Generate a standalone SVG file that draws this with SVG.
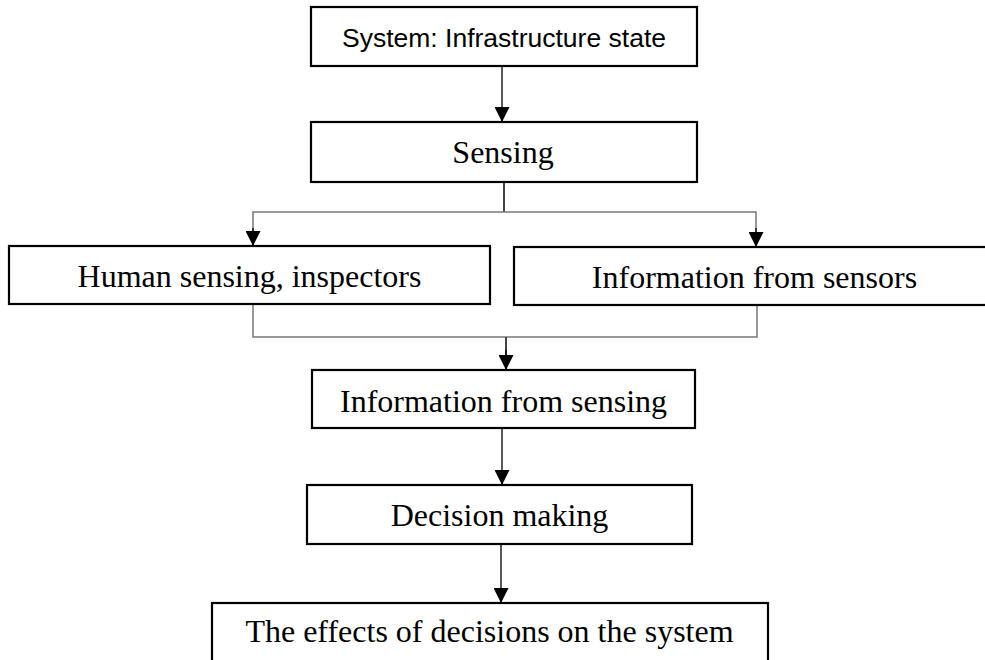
<svg xmlns="http://www.w3.org/2000/svg" width="985" height="660" viewBox="0 0 985 660">
  <style>
    .box { fill: #fff; stroke: #000; stroke-width: 2.2; }
    .serif { font-family: "Liberation Serif", "Times New Roman", serif; font-size: 32px; fill: #000; text-anchor: middle; }
    .sans { font-family: "Liberation Sans", Arial, sans-serif; font-size: 26.5px; fill: #000; text-anchor: middle; }
    .arrow { fill: none; stroke: #000; stroke-width: 1.3; }
    .branch { fill: none; stroke: #777; stroke-width: 1.5; }
    .stem { fill: none; stroke: #444; stroke-width: 2; }
  </style>
  <defs>
    <marker id="ah" markerWidth="15" markerHeight="15" refX="15" refY="7.5" orient="auto" markerUnits="userSpaceOnUse" viewBox="0 0 15 15">
      <path d="M0,0 L15,7.5 L0,15 Z" fill="#000"/>
    </marker>
  </defs>
  <rect width="985" height="660" fill="#fff"/>
  <g id="connectors">
    <line class="arrow" x1="502" y1="66" x2="502" y2="122" marker-end="url(#ah)"/>
    <line class="stem" x1="504" y1="182" x2="504" y2="212"/>
    <polyline class="branch" points="253,240 253,212 756,212 756,240"/>
    <line class="arrow" x1="253" y1="228" x2="253" y2="246" marker-end="url(#ah)"/>
    <line class="arrow" x1="756" y1="228" x2="756" y2="247" marker-end="url(#ah)"/>
    <polyline class="branch" points="253,304 253,337 757,337 757,305"/>
    <line class="stem" x1="506" y1="337" x2="506" y2="356"/>
    <line class="arrow" x1="506" y1="350" x2="506" y2="370" marker-end="url(#ah)"/>
    <line class="arrow" x1="502" y1="428" x2="502" y2="485" marker-end="url(#ah)"/>
    <line class="arrow" x1="501" y1="544" x2="501" y2="603" marker-end="url(#ah)"/>
  </g>
  <g id="node-system">
    <rect class="box" x="311" y="7" width="386" height="59"/>
    <text class="sans" x="504" y="47">System: Infrastructure state</text>
  </g>
  <g id="node-sensing">
    <rect class="box" x="311" y="122" width="386" height="60"/>
    <text class="serif" x="503" y="163">Sensing</text>
  </g>
  <g id="node-human">
    <rect class="box" x="9" y="246" width="481" height="58"/>
    <text class="serif" x="249.5" y="287">Human sensing, inspectors</text>
  </g>
  <g id="node-sensors">
    <rect class="box" x="514" y="247" width="481" height="58"/>
    <text class="serif" x="754.5" y="288">Information from sensors</text>
  </g>
  <g id="node-info">
    <rect class="box" x="312" y="370" width="383" height="58"/>
    <text class="serif" x="503.5" y="412">Information from sensing</text>
  </g>
  <g id="node-decision">
    <rect class="box" x="307" y="485" width="385" height="59"/>
    <text class="serif" x="499.5" y="526">Decision making</text>
  </g>
  <g id="node-effects">
    <rect class="box" x="212" y="603" width="556" height="70"/>
    <text class="serif" x="489.5" y="642">The effects of decisions on the system</text>
  </g>
</svg>
